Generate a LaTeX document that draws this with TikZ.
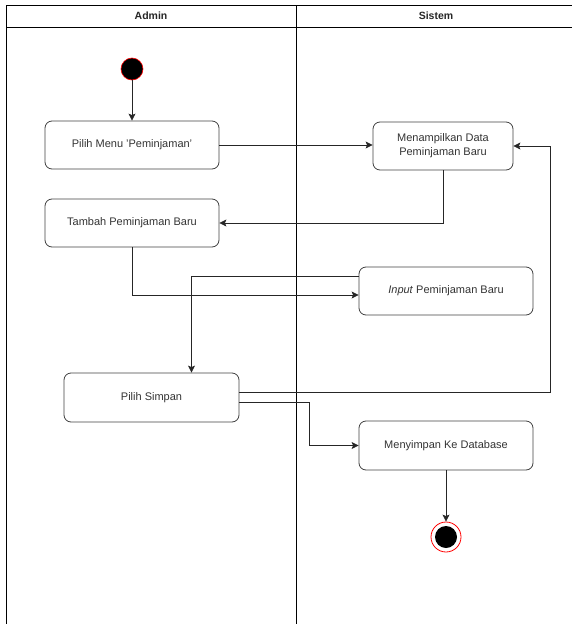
\documentclass[tikz,border=0pt]{standalone}
\usepackage{fontspec}
\setmainfont{Liberation Sans}
\usepackage{tikz}
\usetikzlibrary{positioning}
\usetikzlibrary{calc}
\usetikzlibrary{arrows.meta}

\begin{document}
\begin{tikzpicture}[x=1pt, y=-1pt, line width=0.8pt]

% Define styles for different elements
\tikzstyle{action} = [rectangle, rounded corners=7pt, minimum width=174pt, minimum height=48pt, text centered, align=center, draw=black!75, text=black!80, font=\fontsize{11}{14}\selectfont]
\tikzstyle{lane} = [draw=black, line width=0.9pt]
\tikzstyle{lanetitle} = [font=\bfseries\fontsize{10.5}{12}\selectfont, text=black!85]
\tikzstyle{arrow} = [->,>={Stealth[length=7pt,width=7pt,inset=1.5pt]}, draw=black!85]

\useasboundingbox (0,0) rectangle (571,624);

% Draw the swimlanes
\draw [lane] (6,624) -- (6,5) -- (580,5);
\draw [lane] (6,27) -- (580,27);
\draw [lane] (296,5) -- (296,624);
\node (admin) [lanetitle] at (151,16) {Admin};
\node (sistem) [lanetitle] at (436,16) {Sistem};

% Draw the nodes
\node (start) [circle, fill=black, draw=red, line width=0.6pt, minimum size=22pt, inner sep=0pt] at (132,69) {};
\node (step1) [action] at (132,145) {Pilih Menu 'Peminjaman'};
\node (step2) [action, minimum width=140pt] at (443,146) {Menampilkan Data\\Peminjaman Baru};
\node (step3) [action] at (132,223) {Tambah Peminjaman Baru};
\node (step4) [action] at (446,291) {\textit{Input} Peminjaman Baru};
\node (step5) [action, minimum width=175pt, minimum height=49pt] at (151.5,397.5) {Pilih Simpan};
\node (step6) [action, minimum height=49pt] at (446,445.5) {Menyimpan Ke Database};
\node (stop) [circle, draw=red, fill=white, minimum size=30pt, inner sep=0pt] at (446,537) {};
\node (stopdot) [circle, fill=black, minimum size=22pt, inner sep=0pt] at (stop) {};

% Draw the arrows
\draw [arrow] (start) -- (step1);
\draw [arrow] (step1.east) -- (step1.east -| step2.west);
\draw [arrow] (step2.south) |- (step3.east);
\draw [arrow] (step3.south) |- ([yshift=-4pt]step4.west);
\draw [arrow] ([yshift=15pt]step4.west) -| ([xshift=40pt]step5.north);
\draw [arrow] ([yshift=5pt]step5.east) -- ++(311,0) |- (step2.east);
\draw [arrow] ([yshift=-5pt]step5.east) -- ++(70,0) |- (step6.west);
\draw [arrow] (step6) -- (stop);
\end{tikzpicture}
\end{document}
